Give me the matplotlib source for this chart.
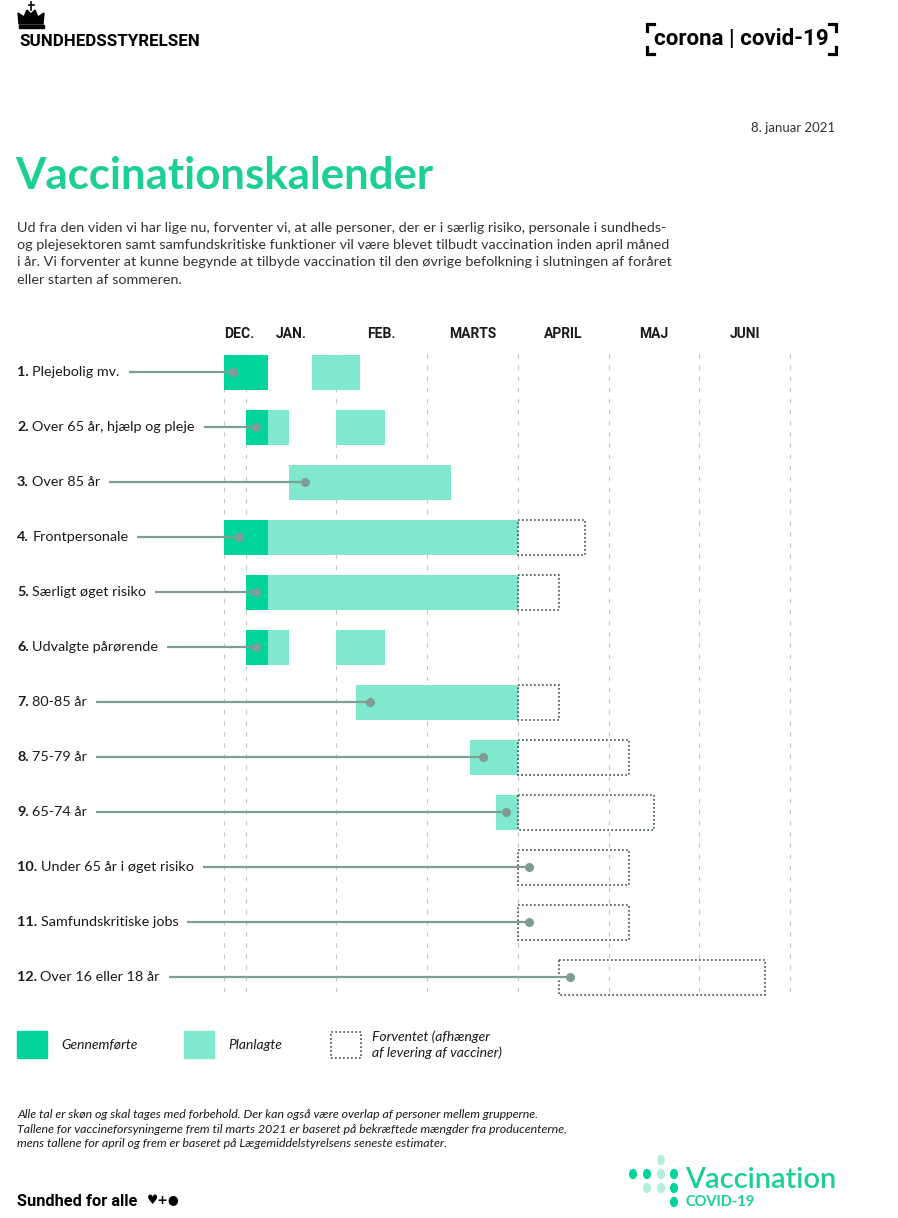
import matplotlib
matplotlib.use("Agg")
import matplotlib.pyplot as plt
import matplotlib.transforms as mtransforms
from matplotlib.patches import Rectangle, Polygon, Circle
from matplotlib.lines import Line2D

# data: time axis in months, 0 = 1. januar, 1 = 1. februar ...
grupper = ["Plejebolig mv.", "Over 65 år, hjælp og pleje", "Over 85 år", "Frontpersonale",
           "Særligt øget risiko", "Udvalgte pårørende", "80-85 år", "75-79 år", "65-74 år",
           "Under 65 år i øget risiko", "Samfundskritiske jobs", "Over 16 eller 18 år"]
gennemfoerte = [[(-0.24, 0.24)], [(0.0, 0.24)], [], [(-0.24, 0.24)], [(0.0, 0.24)], [(0.0, 0.24)],
                [], [], [], [], [], []]
planlagte = [[(0.73, 1.26)], [(0.24, 0.48), (0.99, 1.53)], [(0.48, 2.26)], [(0.24, 3.0)],
             [(0.24, 3.0)], [(0.24, 0.48), (0.99, 1.53)], [(1.22, 3.0)], [(2.47, 3.0)],
             [(2.76, 3.0)], [], [], []]
forventet = [[], [], [], [(3.0, 3.74)], [(3.0, 3.45)], [], [(3.0, 3.45)], [(3.0, 4.23)],
             [(3.0, 4.5)], [(3.0, 4.23)], [(3.0, 4.23)], [(3.45, 5.72)]]
markoer = [-0.14, 0.11, 0.65, -0.07, 0.11, 0.11, 1.37, 2.61, 2.87, 3.12, 3.12, 3.57]
maaneder = ["DEC.", "JAN.", "FEB.", "MARTS", "APRIL", "MAJ", "JUNI"]
maaned_pos = [-0.24, 0.5, 1.5, 2.5, 3.5, 4.5, 5.5]
gitter = [-0.24, 0, 1, 2, 3, 4, 5, 6]

GROEN = "#00d49b"
LYSGROEN = "#80e9cd"
TITEL = "#1ccf97"
LINJE = "#7f9c96"
PRIK = "#3f524e"
TEKST = "#1a1a1a"
FONT = ["Lato", "DejaVu Sans"]

W, H = 898, 1218
fig = plt.figure(figsize=(W / 100, H / 100), dpi=100)
fig.patch.set_facecolor("white")

def fx(x):
    return x / W

def fy(y):
    return 1 - y / H

# header
crown = Polygon([(fx(19), fy(24)), (fx(18), fy(13)), (fx(24), fy(17)), (fx(27), fy(10)),
                 (fx(31), fy(14)), (fx(35), fy(10)), (fx(38), fy(17)), (fx(44), fy(13)),
                 (fx(43), fy(24))], closed=True, transform=fig.transFigure, color="black")
fig.patches.append(crown)
fig.patches.append(Rectangle((fx(19), fy(28)), fx(25), 3 / H, transform=fig.transFigure, color="black"))
fig.lines.append(Line2D([fx(31), fx(31)], [fy(2), fy(10)], transform=fig.transFigure, color="black", lw=1.2))
fig.lines.append(Line2D([fx(28.5), fx(33.5)], [fy(5), fy(5)], transform=fig.transFigure, color="black", lw=1.2))
fig.text(fx(19), fy(41), "SUNDHEDSSTYRELSEN", family="Roboto", weight="bold", fontsize=12.2,
         va="center", ha="left", color="black")

fig.text(fx(741), fy(39), "corona | covid-19", family="Roboto", weight="bold", fontsize=16,
         va="center", ha="center", color="black")
for (x0, x1, y0, y1) in [(647, 654, 24, 31), (836, 829, 24, 31), (647, 654, 54, 47), (836, 829, 54, 47)]:
    fig.lines.append(Line2D([fx(x1), fx(x0), fx(x0)], [fy(y0), fy(y0), fy(y1)],
                            transform=fig.transFigure, color="black", lw=2.3, solid_joinstyle="miter"))

fig.text(fx(835), fy(128), "8. januar 2021", family=FONT, fontsize=9.5, ha="right", va="center", color="#333333")
fig.text(fx(15), fy(176), "Vaccinationskalender", family=FONT, weight="bold", fontsize=31.5,
         ha="left", va="center", color=TITEL)
intro = ("Ud fra den viden vi har lige nu, forventer vi, at alle personer, der er i særlig risiko, personale i sundheds-\n"
         "og plejesektoren samt samfundskritiske funktioner vil være blevet tilbudt vaccination inden april måned\n"
         "i år. Vi forventer at kunne begynde at tilbyde vaccination til den øvrige befolkning i slutningen af foråret\n"
         "eller starten af sommeren.")
fig.text(fx(17), fy(222), intro, family=FONT, fontsize=10.4, ha="left", va="top", color="#333333",
         linespacing=1.52)

# chart axes: x from DEC start line (224 px) to JULI line (790 px), rows of 55 px
ax = fig.add_axes([fx(224), fy(1004.5), (790 - 224) / W, 660 / H])
ax.set_xlim(-0.24, 6)
ax.set_ylim(len(grupper) - 0.5, -0.5)
ax.axis("off")

ax.vlines(gitter, -0.32, 11.36, colors="#c3c7c6", lw=0.8, linestyles=(0, (4, 6)), zorder=1, clip_on=False)

for m, p in zip(maaneder, maaned_pos):
    ax.text(p, -0.69, m, family="Roboto", weight="bold", fontsize=10, va="center",
            ha="left" if m == "DEC." else "center", color=TEKST, clip_on=False)

bh = 35 / 55
for i in range(len(grupper)):
    for (s, e) in planlagte[i]:
        ax.add_patch(Rectangle((s, i - bh / 2), e - s, bh, facecolor=LYSGROEN, edgecolor="none", zorder=2))
    for (s, e) in gennemfoerte[i]:
        ax.add_patch(Rectangle((s, i - bh / 2), e - s, bh, facecolor=GROEN, edgecolor="none", zorder=3))
    for (s, e) in forventet[i]:
        ax.add_patch(Rectangle((s, i - bh / 2), e - s, bh, fill=False, edgecolor=PRIK, lw=1.2,
                               linestyle=(0, (1, 1.4)), zorder=3))

# row labels with leader lines
trans = mtransforms.blended_transform_factory(fig.transFigure, ax.transData)
renderer = fig.canvas.get_renderer()
for i, navn in enumerate(grupper):
    t1 = ax.text(fx(17), i, f"{i + 1}.", transform=trans, family=FONT, weight="bold", fontsize=10.4,
                 va="center", ha="left", color=TEKST, clip_on=False)
    bb = t1.get_window_extent(renderer)
    t2 = ax.text((bb.x1 + 3.5) / W, i, navn, transform=trans, family=FONT, fontsize=10.4,
                 va="center", ha="left", color=TEKST, clip_on=False)
    bb2 = t2.get_window_extent(renderer)
    x_start = ax.transData.inverted().transform((bb2.x1 + 9, 0))[0]
    ax.plot([x_start, markoer[i]], [i, i], color=LINJE, lw=1.6, zorder=6, clip_on=False,
            solid_capstyle="butt")
    ax.plot(markoer[i], i, "o", color=LINJE, ms=5.5, zorder=7, clip_on=False)

# legend
fig.patches.append(Rectangle((fx(17), fy(1058)), 30 / W, 27 / H, transform=fig.transFigure, color=GROEN))
fig.text(fx(61), fy(1045), "Gennemførte", family=FONT, style="italic", fontsize=10, va="center", color=TEKST)
fig.patches.append(Rectangle((fx(184), fy(1058)), 30 / W, 27 / H, transform=fig.transFigure, color=LYSGROEN))
fig.text(fx(228), fy(1045), "Planlagte", family=FONT, style="italic", fontsize=10, va="center", color=TEKST)
fig.patches.append(Rectangle((fx(331), fy(1058)), 30 / W, 26 / H, transform=fig.transFigure, fill=False,
                             edgecolor=PRIK, lw=1.2, linestyle=(0, (1, 1.4))))
fig.text(fx(372), fy(1045), "Forventet (afhænger\naf levering af vacciner)", family=FONT, style="italic",
         fontsize=10, va="center", color=TEKST, linespacing=1.3)

note = ("Alle tal er skøn og skal tages med forbehold. Der kan også være overlap af personer mellem grupperne.\n"
        "Tallene for vaccineforsyningerne frem til marts 2021 er baseret på bekræftede mængder fra producenterne,\n"
        "mens tallene for april og frem er baseret på Lægemiddelstyrelsens seneste estimater.")
fig.text(fx(17), fy(1109), note, family=FONT, style="italic", fontsize=8.9, va="top", color=TEKST,
         linespacing=1.4)

# footer
fig.text(fx(17), fy(1201), "Sundhed for alle", family="Roboto", weight="bold",
         fontsize=11.8, va="center", color="black")
fig.text(fx(147), fy(1201), "♥+●", family=["DejaVu Sans"], weight="bold",
         fontsize=9, va="center", color="black")

logo_dots = [(661, 1160, "#b3efdc"), (633, 1174, GROEN), (647, 1174, GROEN), (661, 1174, "#b3efdc"),
             (674, 1174, GROEN), (647, 1188, "#b3efdc"), (661, 1188, "#b3efdc"), (674, 1188, GROEN),
             (674, 1202, GROEN)]
for (x, y, c) in logo_dots:
    fig.patches.append(Circle((fx(x), fy(y)), 3.3 / W, transform=fig.transFigure, color=c))
fig.text(fx(685), fy(1180), "Vaccination", family=FONT, weight="semibold", fontsize=21, va="center",
         ha="left", color=TITEL)
fig.text(fx(686), fy(1202), "COVID-19", family=FONT, weight="bold", fontsize=10.5, va="center",
         ha="left", color=TITEL)

fig.savefig("out.png", dpi=100, facecolor="white")
